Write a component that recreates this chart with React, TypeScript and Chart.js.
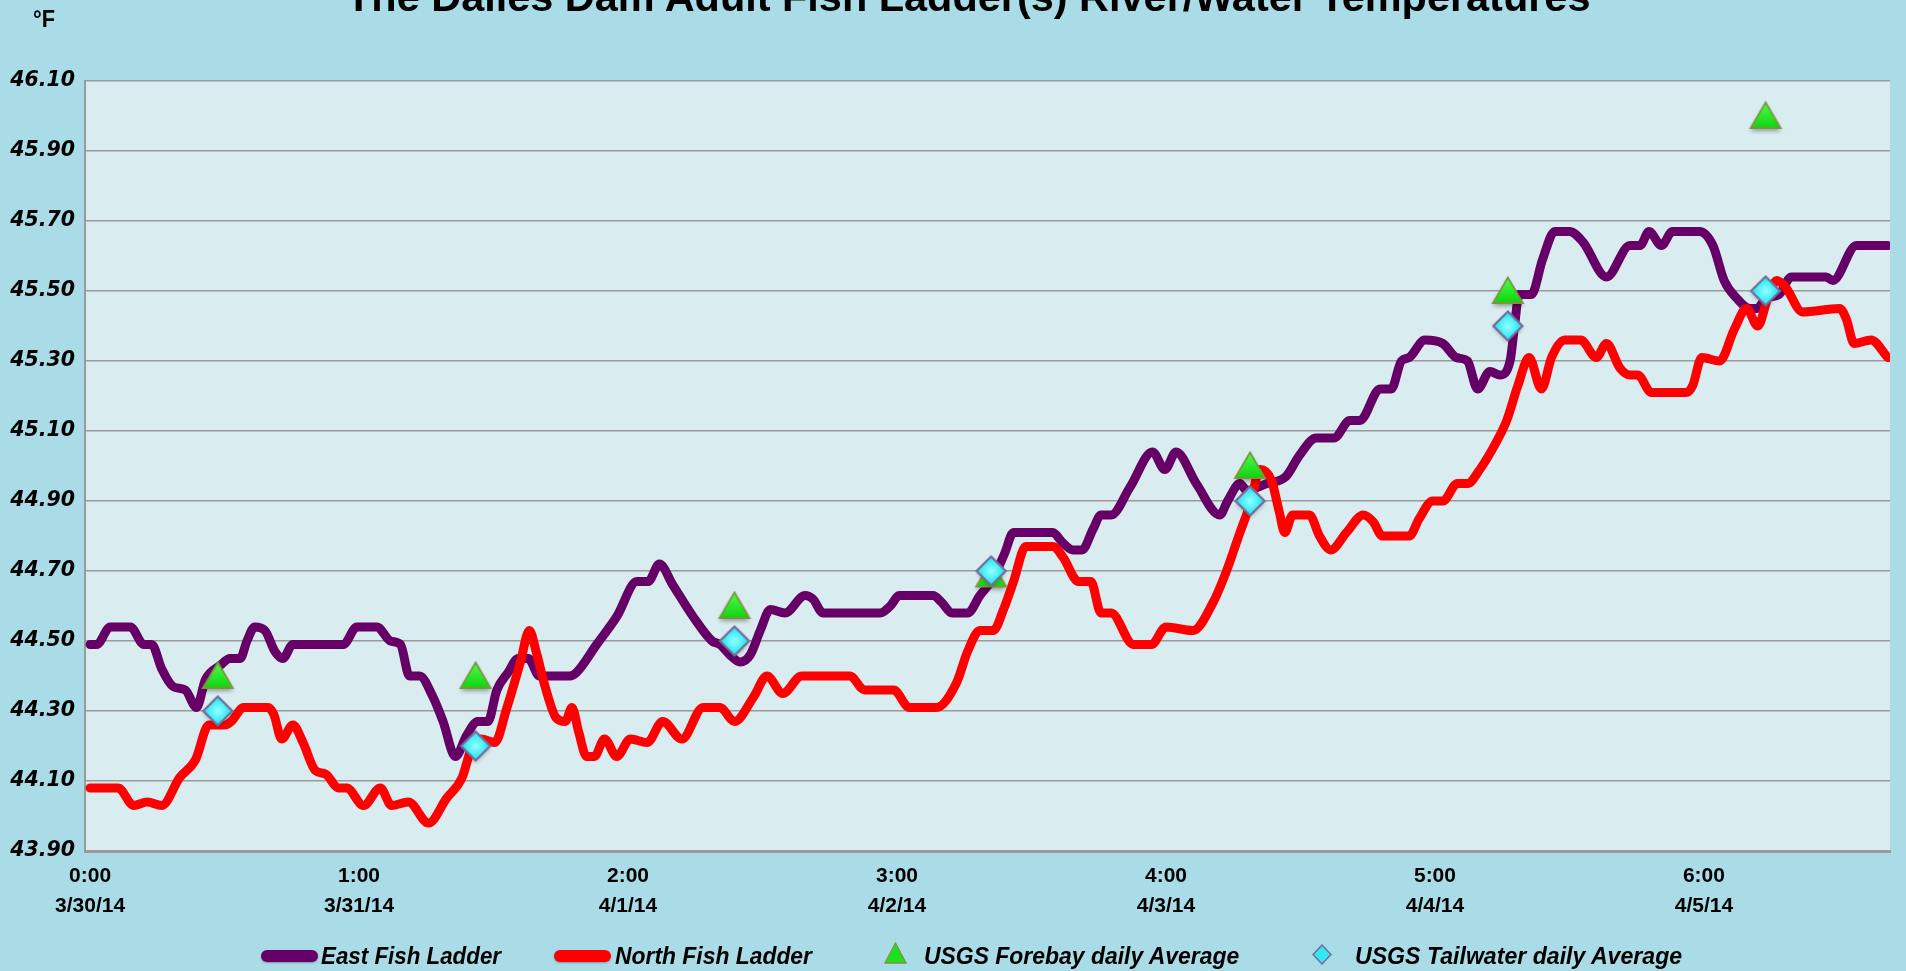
import React, { useEffect, useRef } from "react";
import { Chart, registerables } from "chart.js";

Chart.register(...registerables);

// ---- Data (hours since 3/30/14 0:00, temperatures in °F) ----
const eastHours = [
  0, 0.6, 1.8, 3.6, 4.8, 5.5, 6.4, 7.4, 8.5, 9.5, 10.3, 11.6, 12.5, 13.4, 14.0, 14.7, 15.6, 16.5, 17.2, 18.1,
  19.9, 22.6, 23.8, 25.6, 26.8, 27.7, 28.5, 29.4, 30.6, 31.5, 32.6, 33.6, 34.6, 35.5, 36.3, 37.3, 38.2, 39.1, 40.1, 42.8,
  43.4, 45.2, 47.0, 48.8, 49.8, 50.8, 52.0, 53.8, 55.5, 56.2, 57.1, 58.0, 58.9, 59.8, 60.7, 62.0, 63.8, 64.5, 65.4, 66.6,
  70.5, 71.4, 72.2, 75.2, 76.0, 76.9, 78.3, 79.4, 80.6, 81.6, 82.4, 83.2, 85.9, 86.8, 87.7, 88.5, 89.5, 90.2, 91.1, 92.8,
  94.8, 95.9, 96.9, 98.7, 100.8, 101.5, 102.6, 103.2, 105.0, 106.7, 107.9, 109.4, 111.0, 112.4, 113.3, 115.1, 116.1, 117.0, 117.7, 119.1,
  120.7, 121.9, 122.9, 123.8, 124.9, 125.8, 126.7, 127.1, 127.5, 128.6, 129.6, 130.7, 132.0, 133.2, 135.3, 137.4, 138.3, 139.1, 140.2, 141.2,
  143.6, 144.8, 145.8, 146.9, 148.1, 148.7, 149.6, 150.7, 151.8, 154.9, 155.5, 157.6, 160.4,
];
const eastTemps = [
  44.49, 44.49, 44.54, 44.54, 44.49, 44.49, 44.42, 44.37, 44.36, 44.31, 44.39, 44.43, 44.45, 44.45, 44.50, 44.54, 44.53, 44.47, 44.45, 44.49,
  44.49, 44.49, 44.54, 44.54, 44.50, 44.49, 44.40, 44.40, 44.34, 44.27, 44.17, 44.23, 44.27, 44.27, 44.36, 44.41, 44.45, 44.45, 44.40, 44.40,
  44.41, 44.49, 44.57, 44.67, 44.67, 44.72, 44.66, 44.57, 44.50, 44.49, 44.46, 44.44, 44.46, 44.53, 44.59, 44.58, 44.63, 44.62, 44.58, 44.58,
  44.58, 44.60, 44.63, 44.63, 44.61, 44.58, 44.58, 44.63, 44.68, 44.75, 44.81, 44.81, 44.81, 44.78, 44.76, 44.76, 44.82, 44.86, 44.86, 44.94,
  45.04, 44.99, 45.04, 44.95, 44.86, 44.90, 44.95, 44.93, 44.95, 44.97, 45.03, 45.08, 45.08, 45.13, 45.13, 45.22, 45.22, 45.30, 45.31, 45.36,
  45.35, 45.31, 45.30, 45.22, 45.27, 45.26, 45.30, 45.40, 45.49, 45.49, 45.59, 45.67, 45.67, 45.64, 45.54, 45.63, 45.63, 45.67, 45.63, 45.67,
  45.67, 45.63, 45.53, 45.48, 45.45, 45.45, 45.48, 45.49, 45.54, 45.54, 45.53, 45.63, 45.63,
];

const northHours = [
  0, 2.5, 3.9, 5.1, 6.4, 8.0, 9.4, 10.6, 12.0, 12.6, 13.7, 15.9, 16.4, 17.1, 18.1, 19.0, 20.1, 21.0, 22.2, 22.9,
  24.4, 25.9, 26.9, 28.4, 30.2, 31.8, 33.2, 34.0, 34.9, 36.1, 37.2, 38.4, 39.2, 39.8, 40.6, 41.6, 42.4, 43.0, 43.6, 44.3,
  45.0, 45.9, 47.0, 48.2, 49.7, 51.1, 52.8, 54.7, 56.2, 57.5, 59.2, 60.4, 61.8, 63.5, 67.8, 69.1, 71.7, 73.1, 75.5, 77.3,
  78.3, 79.4, 80.6, 81.5, 82.4, 83.5, 85.9, 86.8, 88.2, 89.3, 90.2, 91.1, 93.1, 94.7, 96.0, 98.4, 100.2, 101.4, 102.6, 103.5,
  104.4, 105.4, 106.1, 106.6, 107.3, 108.8, 109.7, 110.7, 112.1, 113.6, 114.5, 115.3, 117.7, 118.6, 119.8, 120.7, 122.0, 122.9, 124.0, 125.5,
  126.4, 127.4, 128.4, 129.5, 130.4, 131.6, 133.0, 134.4, 135.3, 136.5, 137.4, 138.1, 139.3, 142.4, 143.0, 143.8, 145.4, 146.7, 147.8, 148.8,
  149.7, 150.5, 151.3, 152.8, 156.1, 156.7, 157.4, 158.9, 160.4,
];
const northTemps = [
  44.08, 44.08, 44.03, 44.04, 44.03, 44.11, 44.16, 44.26, 44.26, 44.27, 44.31, 44.31, 44.29, 44.22, 44.26, 44.21, 44.13, 44.12, 44.08, 44.08,
  44.03, 44.08, 44.03, 44.04, 43.98, 44.05, 44.11, 44.19, 44.22, 44.21, 44.31, 44.44, 44.53, 44.47, 44.37, 44.28, 44.27, 44.31, 44.24, 44.17,
  44.17, 44.22, 44.17, 44.22, 44.21, 44.27, 44.22, 44.31, 44.31, 44.27, 44.34, 44.40, 44.35, 44.40, 44.40, 44.36, 44.36, 44.31, 44.31, 44.38,
  44.47, 44.53, 44.53, 44.59, 44.67, 44.77, 44.77, 44.74, 44.67, 44.67, 44.58, 44.58, 44.49, 44.49, 44.54, 44.53, 44.61, 44.70, 44.81, 44.89,
  44.99, 44.96, 44.87, 44.81, 44.86, 44.86, 44.80, 44.76, 44.81, 44.86, 44.84, 44.80, 44.80, 44.85, 44.90, 44.90, 44.95, 44.95, 44.99, 45.07,
  45.13, 45.23, 45.31, 45.22, 45.31, 45.36, 45.36, 45.31, 45.35, 45.28, 45.26, 45.26, 45.21, 45.21, 45.23, 45.31, 45.30, 45.39, 45.45, 45.40,
  45.48, 45.53, 45.51, 45.44, 45.45, 45.42, 45.35, 45.36, 45.31,
];

const usgsHours = [11.4, 34.4, 57.5, 80.4, 103.5, 126.5, 149.5];
const forebayTemps = [44.4, 44.4, 44.6, 44.69, 45.0, 45.5, 46.0];
const tailwaterTemps = [44.3, 44.2, 44.5, 44.7, 44.9, 45.4, 45.5];

const dayTickHours = [0, 24, 48, 72, 96, 120, 144];
const timeLabels = ["0:00", "1:00", "2:00", "3:00", "4:00", "5:00", "6:00"];
const dateLabels = ["3/30/14", "3/31/14", "4/1/14", "4/2/14", "4/3/14", "4/4/14", "4/5/14"];

const seriesNames = [
  "East Fish Ladder",
  "North Fish Ladder",
  "USGS Forebay daily Average",
  "USGS Tailwater daily Average",
];
const titleText = "The Dalles Dam Adult Fish Ladder(s) River/Water Temperatures";

// ---- helpers ----
function measureText(text: string, font: string): number {
  const c = document.createElement("canvas").getContext("2d")!;
  c.font = font;
  return c.measureText(text).width || 1;
}

function FitText(props: { text: string; left: number; top: number; width: number; font: string }) {
  const w = measureText(props.text, props.font);
  return (
    <div
      style={{
        position: "absolute",
        left: props.left,
        top: props.top,
        font: props.font,
        lineHeight: 1,
        whiteSpace: "nowrap",
        color: "#000",
        transform: `scaleX(${props.width / w})`,
        transformOrigin: "left top",
      }}
    >
      {props.text}
    </div>
  );
}

function makeTriangle(): HTMLCanvasElement {
  const c = document.createElement("canvas");
  c.width = 38;
  c.height = 38;
  const g = c.getContext("2d")!;
  g.shadowColor = "rgba(0,0,0,0.35)";
  g.shadowBlur = 4;
  g.shadowOffsetY = 3;
  g.beginPath();
  g.moveTo(19, 5.5);
  g.lineTo(34, 31);
  g.lineTo(4, 31);
  g.closePath();
  const grad = g.createLinearGradient(0, 5, 0, 31);
  grad.addColorStop(0, "#4dff4d");
  grad.addColorStop(1, "#0fd40f");
  g.fillStyle = grad;
  g.fill();
  g.shadowColor = "transparent";
  g.lineWidth = 1.8;
  g.strokeStyle = "#7a983a";
  g.stroke();
  return c;
}

function makeDiamond(): HTMLCanvasElement {
  const c = document.createElement("canvas");
  c.width = 36;
  c.height = 36;
  const g = c.getContext("2d")!;
  g.shadowColor = "rgba(0,0,0,0.3)";
  g.shadowBlur = 4;
  g.shadowOffsetY = 2;
  g.beginPath();
  g.moveTo(18, 3.5);
  g.lineTo(32.5, 18);
  g.lineTo(18, 32.5);
  g.lineTo(3.5, 18);
  g.closePath();
  const grad = g.createRadialGradient(18, 18, 1, 18, 18, 14);
  grad.addColorStop(0, "#8ffcff");
  grad.addColorStop(1, "#12e6ee");
  g.fillStyle = grad;
  g.fill();
  g.shadowColor = "transparent";
  g.lineWidth = 2.2;
  g.strokeStyle = "#7a6b9c";
  g.stroke();
  return c;
}

const plotBackground = {
  id: "plotBackground",
  beforeDraw(chart: any) {
    const { ctx, chartArea } = chart;
    ctx.save();
    ctx.fillStyle = "#d9ecf0";
    ctx.fillRect(chartArea.left, chartArea.top, chartArea.right - chartArea.left, chartArea.bottom - chartArea.top);
    ctx.restore();
  },
};

export default function App() {
  const canvasRef = useRef<HTMLCanvasElement | null>(null);

  useEffect(() => {
    if (!canvasRef.current) return;
    const tri = makeTriangle();
    const dia = makeDiamond();
    const chart = new Chart(canvasRef.current, {
      type: "line",
      data: {
        datasets: [
          {
            label: seriesNames[0],
            data: eastHours.map((h, i) => ({ x: h, y: eastTemps[i] })),
            borderColor: "#660066",
            backgroundColor: "#660066",
            borderWidth: 9,
            pointRadius: 0,
            cubicInterpolationMode: "monotone",
            borderJoinStyle: "round",
            borderCapStyle: "round",
            fill: false,
            order: 4,
          },
          {
            label: seriesNames[1],
            data: northHours.map((h, i) => ({ x: h, y: northTemps[i] })),
            borderColor: "#ff0000",
            backgroundColor: "#ff0000",
            borderWidth: 9,
            pointRadius: 0,
            cubicInterpolationMode: "monotone",
            borderJoinStyle: "round",
            borderCapStyle: "round",
            fill: false,
            order: 3,
          },
          {
            label: seriesNames[2],
            data: usgsHours.map((h, i) => ({ x: h, y: forebayTemps[i] })),
            showLine: false,
            pointStyle: tri as any,
            pointRadius: 15,
            order: 2,
          },
          {
            label: seriesNames[3],
            data: usgsHours.map((h, i) => ({ x: h, y: tailwaterTemps[i] })),
            showLine: false,
            pointStyle: dia as any,
            pointRadius: 14,
            order: 1,
          },
        ],
      },
      options: {
        animation: false,
        responsive: true,
        maintainAspectRatio: false,
        layout: { padding: { top: 81, right: 15, left: 0, bottom: 0 } },
        plugins: {
          legend: { display: false },
          tooltip: { enabled: false },
          title: { display: false },
        },
        scales: {
          x: {
            type: "linear",
            min: -0.45,
            max: 160.6,
            afterBuildTicks: (scale: any) => {
              scale.ticks = dayTickHours.map((v) => ({ value: v }));
            },
            afterFit: (scale: any) => {
              scale.height = 120;
            },
            grid: { display: false, drawTicks: false },
            border: { display: true, color: "#9a9a9a", width: 3 },
            ticks: {
              autoSkip: false,
              maxRotation: 0,
              padding: 10,
              color: "#000",
              font: { family: '"Liberation Sans", Arial, sans-serif', size: 21, weight: "bold", lineHeight: 1.42 },
              callback: (value: any) => {
                const i = dayTickHours.indexOf(Number(value));
                return i >= 0 ? [timeLabels[i], dateLabels[i]] : "";
              },
            },
          },
          y: {
            min: 43.9,
            max: 46.1,
            afterFit: (scale: any) => {
              scale.width = 85;
            },
            grid: { color: "#9a9a9a", lineWidth: 1.5, drawTicks: false },
            border: { display: true, color: "#9a9a9a", width: 2 },
            ticks: {
              stepSize: 0.2,
              padding: 10,
              color: "#000",
              font: { family: '"DejaVu Sans", Verdana, sans-serif', size: 20.5, weight: "bold", style: "italic" },
              callback: (value: any) => Number(value).toFixed(2),
            },
          },
        },
      },
      plugins: [plotBackground],
    });
    return () => chart.destroy();
  }, []);

  const legendFont = 'italic bold 23px "Liberation Sans", Arial, sans-serif';

  return (
    <div
      style={{
        position: "fixed",
        left: 0,
        top: 0,
        width: 1906,
        height: 971,
        overflow: "hidden",
        background: "#a9dce7",
      }}
    >
      <div style={{ position: "absolute", left: 0, top: 0, width: 1906, height: 971 }}>
        <canvas ref={canvasRef} />
      </div>
      <FitText text={titleText} left={346} top={-23} width={1246} font='bold 40px "Liberation Sans", Arial, sans-serif' />
      <FitText text="°F" left={33} top={8} width={22} font='bold 23px "Liberation Sans", Arial, sans-serif' />

      {/* legend */}
      <div
        style={{
          position: "absolute",
          left: 261,
          top: 950,
          width: 57,
          height: 12,
          borderRadius: 6,
          background: "#660066",
          boxShadow: "0 1px 2px rgba(0,0,0,0.3)",
        }}
      />
      <FitText text={seriesNames[0]} left={321} top={945} width={180} font={legendFont} />
      <div
        style={{
          position: "absolute",
          left: 554,
          top: 950,
          width: 57,
          height: 12,
          borderRadius: 6,
          background: "#ff0000",
          boxShadow: "0 1px 2px rgba(0,0,0,0.3)",
        }}
      />
      <FitText text={seriesNames[1]} left={615} top={945} width={197} font={legendFont} />
      <svg style={{ position: "absolute", left: 884, top: 942 }} width={23} height={23}>
        <polygon points="11.5,1 22,21 1,21" fill="#1fe01f" stroke="#7a983a" strokeWidth={1.3} />
      </svg>
      <FitText text={seriesNames[2]} left={924} top={945} width={316} font={legendFont} />
      <svg style={{ position: "absolute", left: 1312, top: 944 }} width={20} height={21}>
        <polygon points="10,1 19,10.5 10,20 1,10.5" fill="#2ee9f0" stroke="#7a6b9c" strokeWidth={1.5} />
      </svg>
      <FitText text={seriesNames[3]} left={1355} top={945} width={328} font={legendFont} />
    </div>
  );
}
